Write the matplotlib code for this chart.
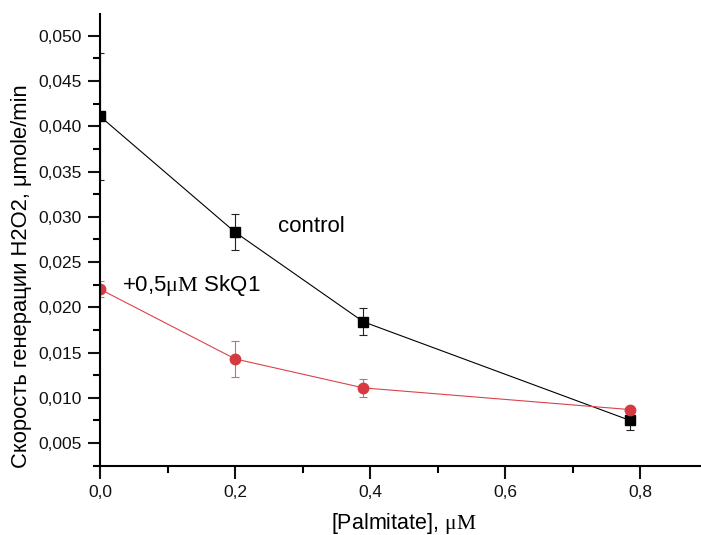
import matplotlib.pyplot as plt
from matplotlib.ticker import MultipleLocator, FuncFormatter

# palmitate concentration, uM
palmitate = [0.0, 0.2, 0.39, 0.785]

# H2O2 generation rate, umole/min
control = [0.0411, 0.0283, 0.0184, 0.0075]
control_err = [0.0070, 0.0020, 0.0015, 0.0010]

skq1 = [0.0220, 0.0143, 0.0111, 0.0087]
skq1_err = [0.0009, 0.0020, 0.0010, 0.0003]

plt.rcParams['font.family'] = ['Liberation Sans', 'DejaVu Sans']
plt.rcParams['mathtext.fontset'] = 'custom'
plt.rcParams['mathtext.rm'] = 'Liberation Serif'

fig = plt.figure(figsize=(7.01, 5.35), dpi=100)
ax = fig.add_axes([0.1427, 0.1295, 0.8573, 0.8443])

# control curve
ax.errorbar(palmitate, control, yerr=control_err, color='black', lw=0.8,
            marker='s', markersize=6.5, capsize=3.2, elinewidth=0.8,
            capthick=0.8, ecolor='#222222')

# curve with SkQ1
ax.errorbar(palmitate, skq1, yerr=skq1_err, color='#d9434b', lw=0.8,
            marker='o', markersize=7.5, markerfacecolor='#d6393f',
            markeredgecolor='#d6393f', capsize=3.2, elinewidth=0.8,
            capthick=0.8, ecolor='#d9686e')

ax.set_xlim(0, 0.89)
ax.set_ylim(0.0025, 0.0524)

ax.xaxis.set_major_locator(MultipleLocator(0.2))
ax.xaxis.set_minor_locator(MultipleLocator(0.1))
ax.yaxis.set_major_locator(MultipleLocator(0.005))
ax.yaxis.set_minor_locator(MultipleLocator(0.0025))

# comma as decimal separator
ax.xaxis.set_major_formatter(FuncFormatter(lambda v, p: f'{v:.1f}'.replace('.', ',')))
ax.yaxis.set_major_formatter(FuncFormatter(lambda v, p: f'{v:.3f}'.replace('.', ',')))

for side in ['top', 'right']:
    ax.spines[side].set_visible(False)
for side in ['left', 'bottom']:
    ax.spines[side].set_linewidth(1.5)

ax.tick_params(which='major', direction='out', length=9, width=1.5,
               labelsize=12.5, colors='#111111')
ax.tick_params(axis='x', which='major', pad=5)
ax.tick_params(axis='y', which='major', pad=4)
ax.tick_params(which='minor', direction='out', length=5, width=1.5)

ax.text(0.264, 0.0289, 'control', fontsize=16, va='center', ha='left')
ax.text(0.032, 0.02245, r'+0,5$\mathrm{\mu M}$ SkQ1', fontsize=16,
        va='center', ha='left')

fig.text(0.576, 0.0224, r'[Palmitate], $\mathrm{\mu M}$', fontsize=15.5,
         ha='center', va='center')
fig.text(0.03, 1 - 276 / 535, 'Скорость генерации H2O2, μmole/min',
         fontsize=15.8, rotation=90, ha='center', va='center')

plt.savefig('out.png', dpi=100)
plt.close()
